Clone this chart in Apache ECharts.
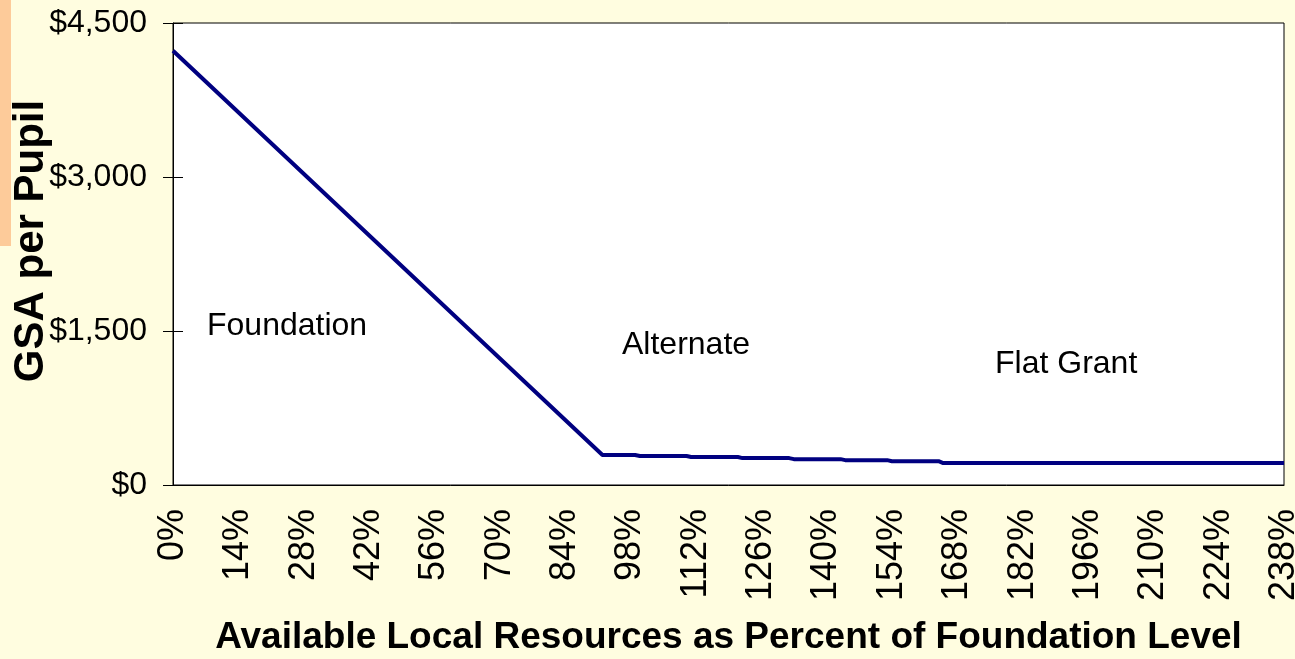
<!DOCTYPE html>
<html>
<head>
<meta charset="utf-8">
<script src="https://cdn.jsdelivr.net/npm/echarts@6/dist/echarts.min.js"></script>
<style>
html,body{margin:0;padding:0;background:#FFFDE0;}
#chart{width:1295px;height:659px;}
</style>
</head>
<body>
<div id="chart"></div>
<script>
// Available local resources as percent of foundation level (x) and GSA per pupil (y)
var xPercent = [0, 92, 99, 100, 110, 111, 121, 122, 132, 133, 143, 144, 153, 154, 164, 165, 238];
var gsaPerPupil = [4230, 292, 292, 282, 282, 272, 272, 262, 262, 252, 252, 242, 242, 232, 232, 214, 214];
var yTicks = [0, 1500, 3000, 4500];
var regionLabels = ['Foundation', 'Alternate', 'Flat Grant'];
var xTitle = 'Available Local Resources as Percent of Foundation Level';
var yTitle = 'GSA per Pupil';

var seriesData = xPercent.map(function (x, i) { return [x, gsaPerPupil[i]]; });
var font = "'Liberation Sans', Arial, sans-serif";

var chart = echarts.init(document.getElementById('chart'));
chart.setOption({
  backgroundColor: '#FFFDE0',
  animation: false,
  grid: {
    left: 173, top: 23, right: 11, bottom: 174,
    containLabel: false, outerBoundsMode: 'none',
    show: true, backgroundColor: '#FFFFFF', borderColor: '#000000', borderWidth: 1
  },
  xAxis: {
    type: 'value', min: 0, max: 238, interval: 14,
    axisLine: { show: true, lineStyle: { color: '#000', width: 1 } },
    axisTick: { show: false },
    splitLine: { show: false },
    axisLabel: {
      rotate: 90, margin: 24, fontSize: 36, color: '#000', fontFamily: font,
      formatter: function (v) { return v + '%'; }
    },
    name: xTitle, nameLocation: 'middle', nameGap: 134,
    nameTextStyle: { fontSize: 37, fontWeight: 'bold', color: '#000', fontFamily: font }
  },
  yAxis: [{
    type: 'value', min: yTicks[0], max: yTicks[yTicks.length - 1], interval: yTicks[1] - yTicks[0],
    axisLine: { show: true, lineStyle: { color: '#000', width: 1 } },
    axisTick: { show: true, inside: false, length: 10, lineStyle: { color: '#000' } },
    splitLine: { show: false },
    axisLabel: {
      margin: 26, fontSize: 32, color: '#000', fontFamily: font,
      formatter: function (v) { return '$' + v.toLocaleString('en-US'); }
    }
  }, {
    type: 'value', position: 'left', min: yTicks[0], max: yTicks[yTicks.length - 1], interval: yTicks[1] - yTicks[0],
    axisLine: { show: false },
    axisTick: { show: true, inside: true, length: 10, lineStyle: { color: '#000' } },
    splitLine: { show: false },
    axisLabel: { show: false }
  }],
  graphic: [
    { type: 'rect', left: 0, top: 0, shape: { width: 11, height: 246 }, style: { fill: '#FDCB9A' }, z: 100 },
    { type: 'text', x: 31, y: 241, rotation: Math.PI / 2,
      style: { text: yTitle, fontSize: 42, fontWeight: 'bold', fill: '#000', fontFamily: font, align: 'center', verticalAlign: 'middle' }, z: 100 },
    { type: 'text', left: 207, top: 328 - 18, style: { text: regionLabels[0], fontSize: 32, fill: '#000', fontFamily: font }, z: 100 },
    { type: 'text', left: 622, top: 347 - 18, style: { text: regionLabels[1], fontSize: 32, fill: '#000', fontFamily: font }, z: 100 },
    { type: 'text', left: 995, top: 366 - 18, style: { text: regionLabels[2], fontSize: 32, fill: '#000', fontFamily: font }, z: 100 }
  ],
  series: [{
    type: 'line', data: seriesData, yAxisIndex: 0,
    showSymbol: false, symbol: 'none',
    lineStyle: { color: '#000080', width: 4 },
    clip: false
  }]
});
</script>
</body>
</html>
